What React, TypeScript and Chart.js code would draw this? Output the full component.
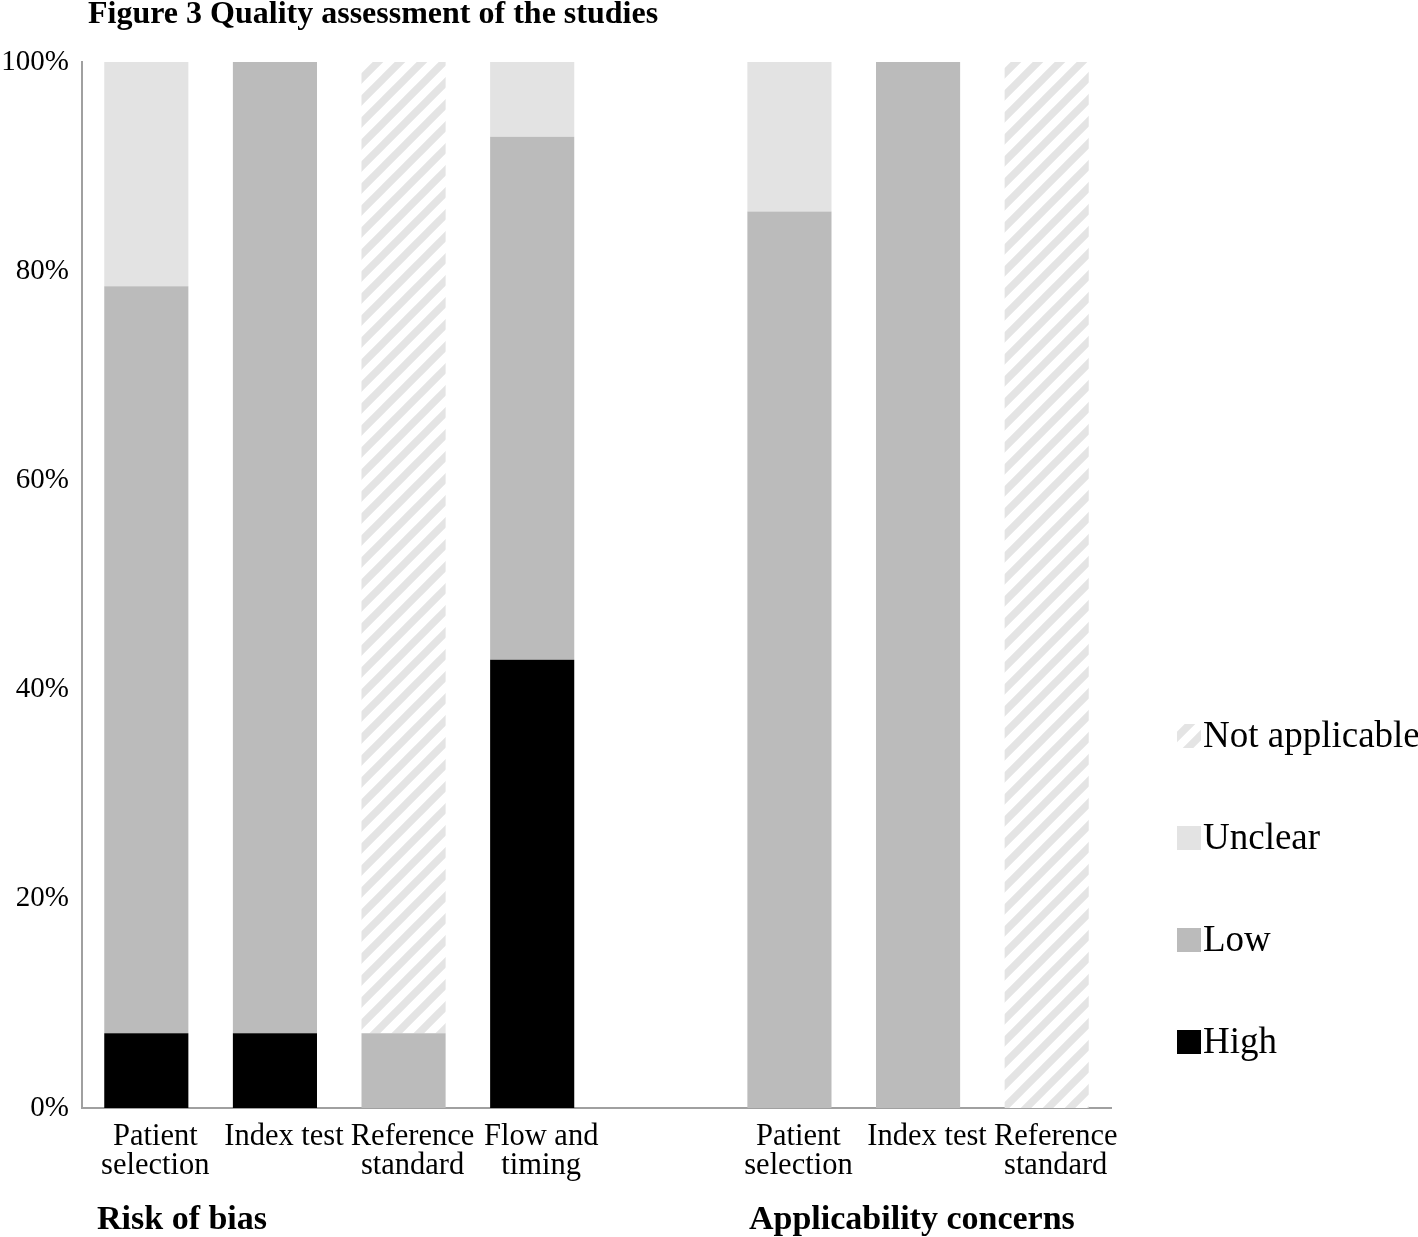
import React, { useEffect, useRef } from "react";
import { Chart, registerables } from "chart.js";

Chart.register(...registerables);

const categories: (string | string[])[] = [
  ["Patient", "selection"],
  "Index test",
  ["Reference", "standard"],
  ["Flow and", "timing"],
  "",
  ["Patient", "selection"],
  "Index test",
  ["Reference", "standard"],
];

const highValues = [7.14, 7.14, 0, 42.86, null, 0, 0, 0];
const lowValues = [71.43, 92.86, 7.14, 50.0, null, 85.71, 100, 0];
const unclearValues = [21.43, 0, 0, 7.14, null, 14.29, 0, 0];
const notApplicableValues = [0, 0, 92.86, 0, null, 0, 0, 100];

const yTicks = [0, 20, 40, 60, 80, 100];

const titleText = "Figure 3 Quality assessment of the studies";
const groupLabels = ["Risk of bias", "Applicability concerns"];

const SERIF = "'Liberation Serif', 'Times New Roman', serif";

function makeHatch(): CanvasPattern | string {
  const c = document.createElement("canvas");
  const s = 22;
  c.width = s;
  c.height = s;
  const g = c.getContext("2d");
  if (!g) return "#e6e6e6";
  g.fillStyle = "#ffffff";
  g.fillRect(0, 0, s, s);
  g.strokeStyle = "#e4e4e4";
  g.lineWidth = 7.5;
  g.beginPath();
  g.moveTo(-s, 2 * s);
  g.lineTo(2 * s, -s);
  g.moveTo(-s, s);
  g.lineTo(s, -s);
  g.moveTo(0, 2 * s);
  g.lineTo(2 * s, 0);
  g.stroke();
  const p = g.createPattern(c, "repeat");
  return p || "#e6e6e6";
}

export default function App() {
  const ref = useRef<HTMLCanvasElement | null>(null);

  useEffect(() => {
    if (!ref.current) return;
    const hatch = makeHatch();

    const overlay = {
      id: "overlay",
      afterDraw(chart: any) {
        const ctx = chart.ctx as CanvasRenderingContext2D;
        ctx.save();
        ctx.fillStyle = "#000";
        // title
        ctx.font = `bold 32px ${SERIF}`;
        ctx.textAlign = "left";
        ctx.textBaseline = "alphabetic";
        ctx.fillText(titleText, 88, 23);
        // group labels
        ctx.font = `bold 34px ${SERIF}`;
        ctx.fillText(groupLabels[0], 97, 1229);
        ctx.fillText(groupLabels[1], 749, 1229);
        // legend (reverse order)
        const ds = chart.data.datasets;
        const order = [3, 2, 1, 0];
        order.forEach((di, i) => {
          const cy = 736 + i * 102;
          const d = ds[di];
          ctx.fillStyle = d.backgroundColor;
          ctx.fillRect(1177, cy - 12, 24, 24);
          ctx.fillStyle = "#000";
          ctx.font = `37px ${SERIF}`;
          ctx.textBaseline = "middle";
          ctx.textAlign = "left";
          ctx.fillText(d.label, 1203, cy + 1);
        });
        ctx.restore();
      },
    };

    const common = { barPercentage: 0.654, categoryPercentage: 1.0, borderWidth: 0 };

    const chart = new Chart(ref.current, {
      type: "bar",
      data: {
        labels: categories as any,
        datasets: [
          { label: "High", data: highValues, backgroundColor: "#000000", ...common },
          { label: "Low", data: lowValues, backgroundColor: "#bbbbbb", ...common },
          { label: "Unclear", data: unclearValues, backgroundColor: "#e3e3e3", ...common },
          { label: "Not applicable", data: notApplicableValues, backgroundColor: hatch as any, ...common },
        ],
      },
      options: {
        animation: false,
        responsive: false,
        maintainAspectRatio: false,
        layout: { padding: { left: 0, top: 62, right: 307, bottom: 0 } },
        plugins: {
          legend: { display: false },
          tooltip: { enabled: false },
          title: { display: false },
        },
        scales: {
          x: {
            stacked: true,
            grid: { display: false, drawTicks: false },
            border: { display: true, color: "#a0a0a0", width: 2 },
            ticks: {
              color: "#000",
              font: { family: SERIF, size: 30.5, lineHeight: 0.96 },
              padding: 14,
              labelOffset: 9,
              maxRotation: 0,
              minRotation: 0,
              autoSkip: false,
            },
            afterFit(scale: any) {
              scale.height = 1237 - 1108;
            },
          },
          y: {
            stacked: true,
            min: 0,
            max: 100,
            afterBuildTicks(scale: any) {
              scale.ticks = yTicks.map((v) => ({ value: v }));
            },
            grid: { display: false, drawTicks: false },
            border: { display: true, color: "#a0a0a0", width: 2 },
            ticks: {
              color: "#000",
              font: { family: SERIF, size: 29 },
              padding: 13,
              callback: (v: any) => `${v}%`,
            },
            afterFit(scale: any) {
              scale.width = 82;
            },
          },
        },
      },
      plugins: [overlay],
    });
    return () => chart.destroy();
  }, []);

  return (
    <div style={{ position: "absolute", left: 0, top: 0, width: 1418, height: 1237, background: "#fff" }}>
      <canvas ref={ref} width={1418} height={1237} style={{ width: 1418, height: 1237, display: "block" }} />
    </div>
  );
}
